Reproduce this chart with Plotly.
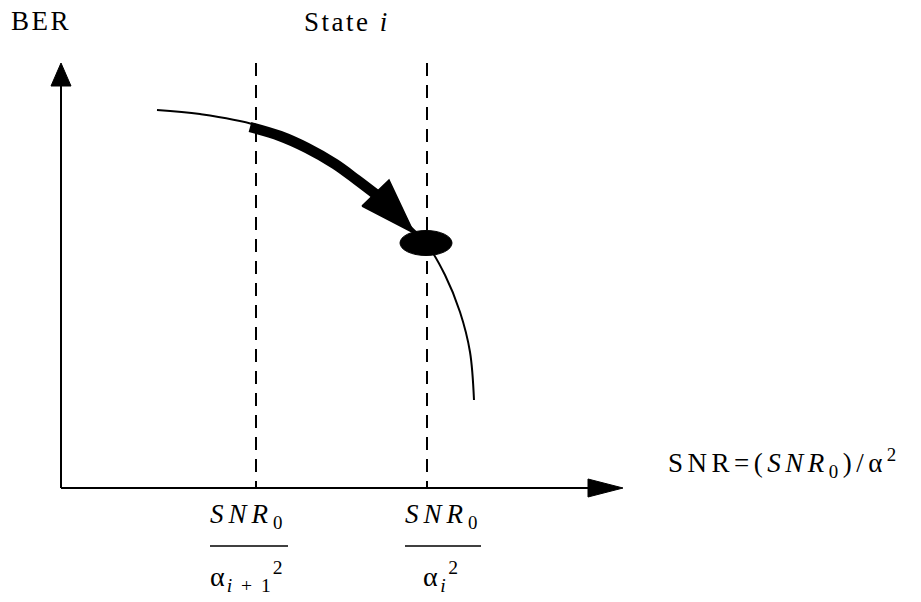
import plotly.graph_objects as go

# BER curve (schematic), in drawing units: x grows right, y grows downward
curve_x = [157, 200, 256, 307, 357, 395, 426, 445, 460, 470, 474]
curve_y = [110, 114, 125, 147, 181, 213, 243, 275, 312, 352, 400]

# thick transition arrow riding on the curve between the two thresholds
shaft_x = [250, 280, 307, 335, 357, 378]
shaft_y = [127, 136, 148, 164, 180, 196]
head_x = [362, 389, 414]
head_y = [206, 180, 233]

# operating point on the curve
point_x = [426]
point_y = [243]

# axes
origin = (61, 488)
y_axis_top = 85
x_axis_end = 588
y_head = [(51, 86), (71, 86), (61, 63)]
x_head = [(588, 479), (588, 497), (623, 488)]

# SNR thresholds (dashed lines)
thresholds = [256, 427]
dash_top = 63

FONT = "Liberation Serif, Times New Roman, serif"

fig = go.Figure()

fig.add_trace(go.Scatter(x=curve_x, y=curve_y, mode="lines",
                         line=dict(color="black", width=2, shape="spline"),
                         hoverinfo="skip"))
fig.add_trace(go.Scatter(x=shaft_x, y=shaft_y, mode="lines",
                         line=dict(color="black", width=10.5, shape="spline"),
                         hoverinfo="skip"))
fig.add_trace(go.Scatter(x=head_x + head_x[:1], y=head_y + head_y[:1], mode="lines",
                         fill="toself", fillcolor="black",
                         line=dict(color="black", width=1.5), hoverinfo="skip"))

shapes = []
# ellipse marking the state
shapes.append(dict(type="circle", xref="x", yref="y",
                   x0=point_x[0] - 26, x1=point_x[0] + 26,
                   y0=point_y[0] - 12.5, y1=point_y[0] + 12.5,
                   fillcolor="black", line=dict(color="black", width=1)))
# axis lines
shapes.append(dict(type="line", x0=origin[0], x1=origin[0], y0=origin[1], y1=y_axis_top,
                   line=dict(color="black", width=2)))
shapes.append(dict(type="line", x0=origin[0], x1=x_axis_end, y0=origin[1], y1=origin[1],
                   line=dict(color="black", width=2)))
# axis arrowheads
for tri in (y_head, x_head):
    path = "M {} {} L {} {} L {} {} Z".format(*tri[0], *tri[1], *tri[2])
    shapes.append(dict(type="path", path=path, fillcolor="black",
                       line=dict(color="black", width=1)))
# dashed threshold lines
for tx in thresholds:
    shapes.append(dict(type="line", x0=tx, x1=tx, y0=dash_top, y1=origin[1],
                       line=dict(color="black", width=2, dash="13px,9px")))
# fraction bars under the tick numerators
bars = [(210, 288), (405, 481)]
for a, b in bars:
    shapes.append(dict(type="line", x0=a, x1=b, y0=546, y1=546,
                       line=dict(color="black", width=1.5)))

def label(x, y, text, size=27, spacing=2.5):
    return dict(x=x, y=y, xref="x", yref="y",
                text=f'<span style="letter-spacing:{spacing}px">{text}</span>',
                showarrow=False, xanchor="left", yanchor="middle",
                font=dict(family=FONT, size=size, color="black"))

annotations = [
    label(9, 21, "BER"),
    label(302, 22, "State <i>i</i>"),
    label(666, 463, "SNR=(<i>SNR</i><sub>0</sub>)/α<sup>2</sup>", spacing=4.5),
    label(208, 516, "<i>SNR</i><sub>0</sub>", spacing=5),
    label(403, 516, "<i>SNR</i><sub>0</sub>", spacing=5),
    label(208, 576, "α<sub><i>i</i> + 1</sub><sup>2</sup>", size=28, spacing=2),
    label(421, 576, "α<sub><i>i</i></sub><sup>2</sup>", size=28, spacing=2.5),
]

fig.update_layout(
    width=921, height=602,
    margin=dict(l=0, r=0, t=0, b=0),
    paper_bgcolor="white", plot_bgcolor="white",
    showlegend=False,
    xaxis=dict(range=[0, 921], visible=False, fixedrange=True),
    yaxis=dict(range=[602, 0], visible=False, fixedrange=True),
    shapes=shapes,
    annotations=annotations,
)

fig.write_html("out.html")
